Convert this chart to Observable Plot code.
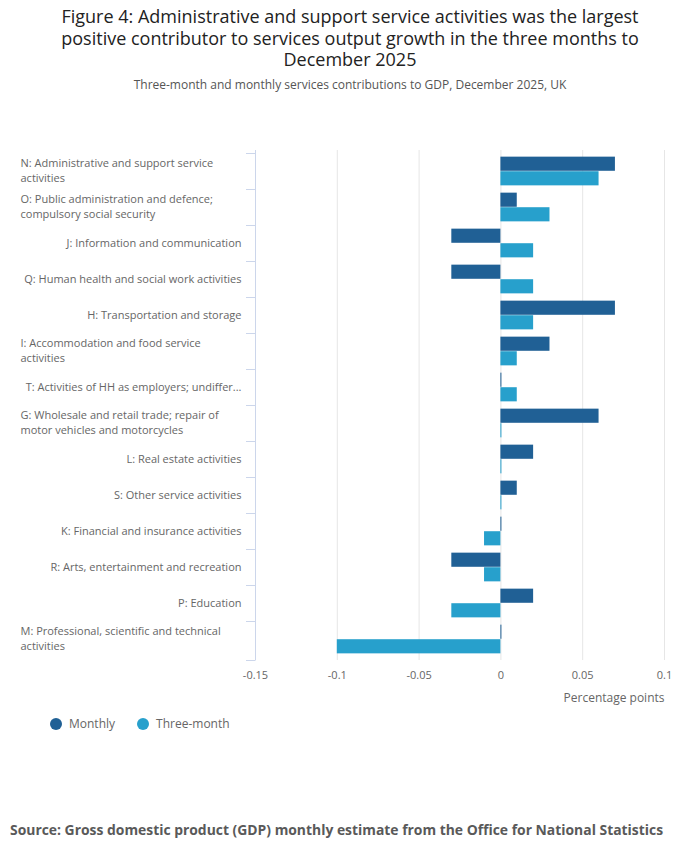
<!DOCTYPE html>
<html>
<head>
<meta charset="utf-8">
<script src="https://cdn.jsdelivr.net/npm/d3@7"></script>
<script src="https://cdn.jsdelivr.net/npm/@observablehq/plot@0.6"></script>
<style>
  body { margin: 0; width: 700px; height: 857px; position: relative; background: #fff; font-family: "Open Sans", sans-serif; }
  #title { position: absolute; left: 0; top: 6px; width: 700px; text-align: center; font-size: 18px; line-height: 21.5px; color: #222; }
  #subtitle { position: absolute; left: 0; top: 77px; width: 700px; text-align: center; font-size: 12px; line-height: 16px; color: #555; }
  #chart { position: absolute; left: 0; top: 140px; }
  #legend { position: absolute; left: 50px; top: 715px; display: flex; align-items: center; font-size: 12px; color: #666; }
  .item { display: flex; align-items: center; margin-right: 22px; }
  .dot { width: 12px; height: 12px; border-radius: 50%; margin-right: 7px; }
  #source { position: absolute; left: 10px; top: 820px; font-size: 13.9px; font-weight: bold; color: #595959; }
</style>
</head>
<body>
<div id="title">Figure 4: Administrative and support service activities was the largest<br>positive contributor to services output growth in the three months to<br>December 2025</div>
<div id="subtitle">Three-month and monthly services contributions to GDP, December 2025, UK</div>
<div id="chart"></div>
<div id="legend"></div>
<div id="source">Source: Gross domestic product (GDP) monthly estimate from the Office for National Statistics</div>
<script>
const categories = [
  "N: Administrative and support service\nactivities",
  "O: Public administration and defence;\ncompulsory social security",
  "J: Information and communication",
  "Q: Human health and social work activities",
  "H: Transportation and storage",
  "I: Accommodation and food service\nactivities",
  "T: Activities of HH as employers; undiffer...",
  "G: Wholesale and retail trade; repair of\nmotor vehicles and motorcycles",
  "L: Real estate activities",
  "S: Other service activities",
  "K: Financial and insurance activities",
  "R: Arts, entertainment and recreation",
  "P: Education",
  "M: Professional, scientific and technical\nactivities"
];
const monthly    = [0.07, 0.01, -0.03, -0.03, 0.07, 0.03, 0, 0.06, 0.02, 0.01, 0, -0.03, 0.02, 0];
const threeMonth = [0.06, 0.03, 0.02, 0.02, 0.02, 0.01, 0.01, 0, 0, 0, -0.01, -0.01, -0.03, -0.1];
const seriesNames = ["Monthly", "Three-month"];
const seriesColors = ["#206095", "#27a0cc"];
const xTicks = [-0.15, -0.1, -0.05, 0, 0.05, 0.1];

const monData = categories.map((c, i) => ({cat: c, v: monthly[i]}));
const triData = categories.map((c, i) => ({cat: c, v: threeMonth[i]}));

const width = 700, height = 570, mt = 10, mb = 50, ml = 255, mr = 36;
const bw = (height - mt - mb) / categories.length;
const pad = bw * 0.1;

const single = categories.filter(c => !c.includes("\n"));
const multi = categories.filter(c => c.includes("\n"));

function leftAxis(index, scales, values, dimensions) {
  const g = d3.create("svg:g");
  const {marginLeft, marginTop, height: h, marginBottom} = dimensions;
  g.append("line")
    .attr("x1", marginLeft + 0.5).attr("x2", marginLeft + 0.5)
    .attr("y1", marginTop).attr("y2", h - marginBottom)
    .attr("stroke", "#ccd6eb");
  const ys = categories.map(c => scales.y(c));
  ys.push(h - marginBottom);
  for (const y of ys) {
    g.append("line")
      .attr("x1", marginLeft - 9).attr("x2", marginLeft + 0.5)
      .attr("y1", Math.round(y) + 0.5).attr("y2", Math.round(y) + 0.5)
      .attr("stroke", "#ccd6eb");
  }
  return g.node();
}

const plot = Plot.plot({
  width, height,
  marginTop: mt, marginBottom: mb, marginLeft: ml, marginRight: mr,
  style: {fontFamily: "'Open Sans', sans-serif", fontSize: "11px", color: "#666", background: "#fff"},
  x: {domain: [-0.15, 0.1], ticks: xTicks, tickFormat: d => String(d), label: null},
  y: {domain: categories, padding: 0, axis: null},
  marks: [
    Plot.gridX(xTicks.slice(1), {stroke: "#e6e6e6", strokeOpacity: 1}),
    Plot.axisX({ticks: xTicks, tickFormat: d => String(d), tickSize: 0, tickPadding: 11, fontSize: 11, fill: "#666", label: null}),
    Plot.text(["Percentage points"], {frameAnchor: "bottom-right", dy: 41, text: d => d, fontSize: 12, fill: "#666", textAnchor: "end"}),
    Plot.barX(monData, {x: "v", y: "cat", fill: seriesColors[0], insetTop: pad, insetBottom: bw / 2}),
    Plot.barX(triData, {x: "v", y: "cat", fill: seriesColors[1], insetTop: bw / 2, insetBottom: pad}),
    Plot.tickX(monData.filter(d => d.v === 0), {x: "v", y: "cat", stroke: seriesColors[0], insetTop: pad, insetBottom: bw / 2}),
    Plot.tickX(triData.filter(d => d.v === 0), {x: "v", y: "cat", stroke: seriesColors[1], insetTop: bw / 2, insetBottom: pad}),
    leftAxis,
    Plot.text(single, {y: d => d, text: d => d, frameAnchor: "left", textAnchor: "end", dx: -14, fontSize: 11, fill: "#666"}),
    Plot.text(multi, {y: d => d, text: d => d, frameAnchor: "left", textAnchor: "start", dx: -235, dy: -2, fontSize: 11, fill: "#666", lineHeight: 1.36})
  ]
});
document.getElementById("chart").appendChild(plot);

const legend = d3.select("#legend");
seriesNames.forEach((n, i) => {
  const it = legend.append("div").attr("class", "item");
  it.append("div").attr("class", "dot").style("background", seriesColors[i]);
  it.append("span").text(n);
});
</script>
</body>
</html>
